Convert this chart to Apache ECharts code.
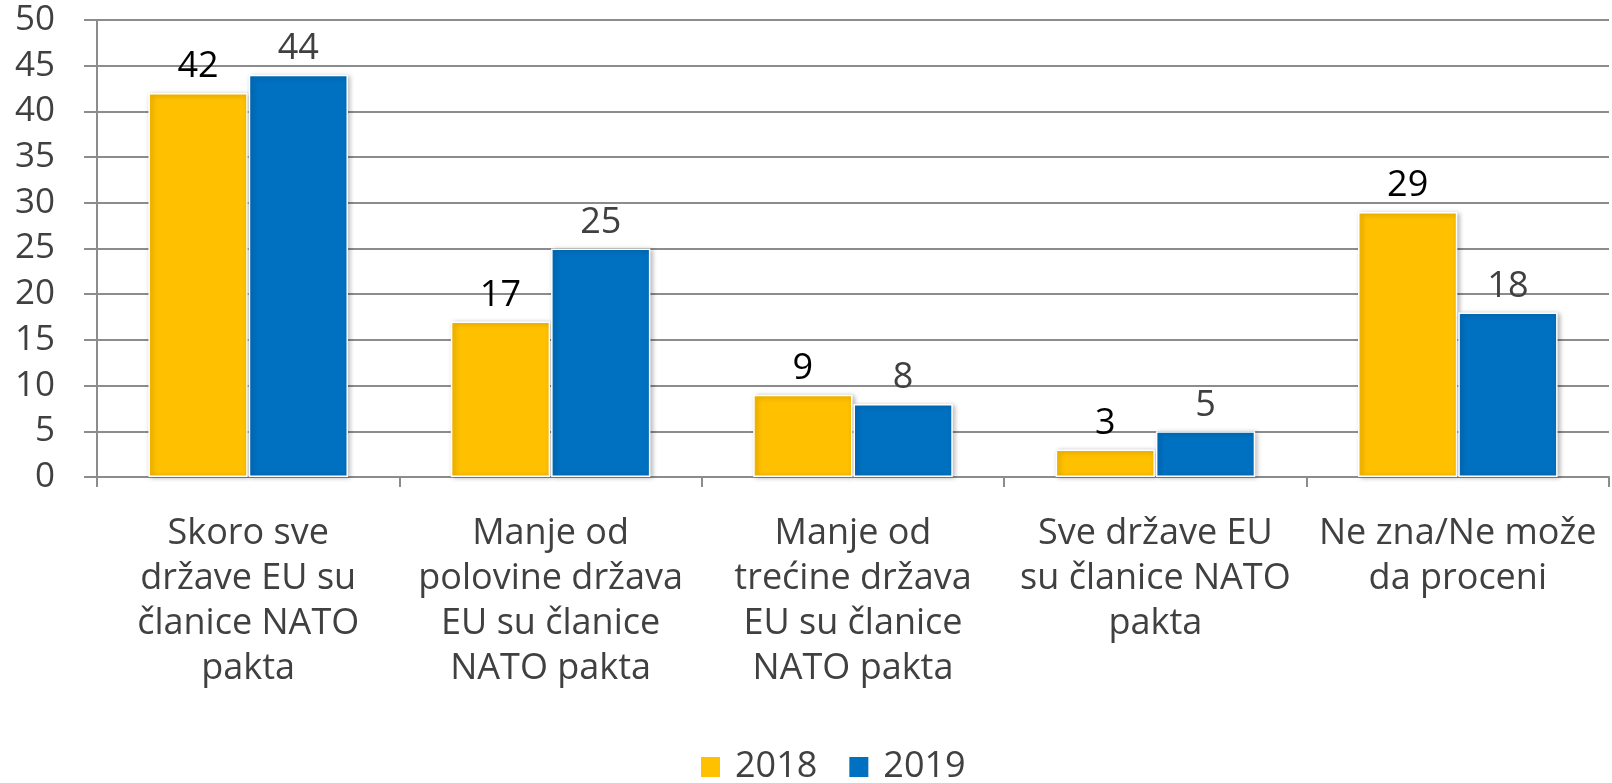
<!DOCTYPE html>
<html>
<head>
<meta charset="utf-8">
<script src="https://cdn.jsdelivr.net/npm/echarts@6/dist/echarts.min.js"></script>
<style>
  html, body { margin: 0; padding: 0; background: #fff; }
  #chart { width: 1612px; height: 783px; }
</style>
</head>
<body>
<div id="chart"></div>
<script>
const categories = [
  'Skoro sve\ndržave EU su\nčlanice NATO\npakta',
  'Manje od\npolovine država\nEU su članice\nNATO pakta',
  'Manje od\ntrećine država\nEU su članice\nNATO pakta',
  'Sve države EU\nsu članice NATO\npakta',
  'Ne zna/Ne može\nda proceni'
]
const values2018 = [42, 17, 9, 3, 29]
const values2019 = [44, 25, 8, 5, 18]
const seriesNames = ['2018', '2019']

const fontFamily = '"Open Sans", "Noto Sans", sans-serif'
const gridColor = '#8c8c8c'

const chart = echarts.init(document.getElementById('chart'))

const barStyle = (color) => ({
  color: color,
  borderColor: '#fff',
  borderWidth: 1.5,
  shadowBlur: 5,
  shadowColor: 'rgba(0, 0, 0, 0.3)',
  shadowOffsetX: 2,
  shadowOffsetY: 1
})

chart.setOption({
  animation: false,
  textStyle: { fontFamily: fontFamily },
  grid: { left: 97, right: 3, top: 20, bottom: 306 },
  legend: {
    top: 744,
    left: 694,
    itemWidth: 21,
    itemHeight: 22,
    itemGap: 30,
    icon: 'rect',
    textStyle: { fontSize: 36, color: '#404040', fontFamily: fontFamily, padding: [0, 0, 0, 9] },
    data: seriesNames
  },
  xAxis: {
    type: 'category',
    data: categories,
    axisLine: { lineStyle: { color: gridColor, width: 2 } },
    axisTick: { show: true, length: 10, lineStyle: { color: gridColor, width: 2 } },
    axisLabel: {
      interval: 0,
      fontSize: 36,
      lineHeight: 45,
      color: '#404040',
      margin: 34
    }
  },
  yAxis: {
    type: 'value',
    min: 0,
    max: 50,
    interval: 5,
    axisLine: { show: true, lineStyle: { color: gridColor, width: 2 } },
    axisTick: { show: true, length: 13, lineStyle: { color: gridColor, width: 2 } },
    splitLine: { lineStyle: { color: gridColor, width: 2 } },
    axisLabel: { fontSize: 35, color: '#404040', margin: 42 }
  },
  series: [
    {
      name: seriesNames[0],
      type: 'bar',
      data: values2018,
      barGap: '1%',
      barCategoryGap: '34%',
      itemStyle: barStyle('#FFC000'),
      label: { show: true, position: 'top', distance: 8, fontSize: 36, color: '#000' }
    },
    {
      name: seriesNames[1],
      type: 'bar',
      data: values2019,
      itemStyle: barStyle('#0070C0'),
      label: { show: true, position: 'top', distance: 8, fontSize: 36, color: '#404040' }
    }
  ]
})
</script>
</body>
</html>
